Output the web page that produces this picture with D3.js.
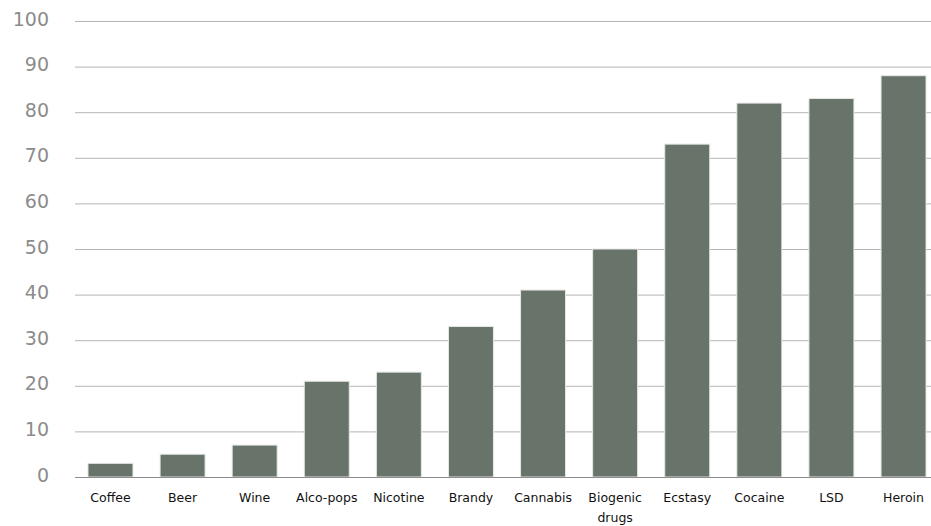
<!DOCTYPE html>
<html><head><meta charset="utf-8">
<script src="https://cdn.jsdelivr.net/npm/d3@7"></script>
<style>body{margin:0;background:#fff}</style>
</head><body>
<svg id="c" width="931" height="526"></svg>
<script>
const categories = ["Coffee","Beer","Wine","Alco-pops","Nicotine","Brandy","Cannabis","Biogenic drugs","Ecstasy","Cocaine","LSD","Heroin"];
const values = [3,5,7,21,23,33,41,50,73,82,83,88];
const yTicks = [0,10,20,30,40,50,60,70,80,90,100];

(function(){
const svg = d3.select("#c");
const mLeft = 75, mRight = 939, gridRight = 931, mTop = 21, mBottom = 477;
const x = d3.scaleBand().domain(categories).range([mLeft, mRight]).paddingInner(0.376).paddingOuter(0.18);
const y = d3.scaleLinear().domain([0,100]).range([mBottom, mTop]);

svg.append("g").selectAll("line").data(yTicks.filter(d=>d>0)).join("line")
  .attr("x1", mLeft).attr("x2", gridRight)
  .attr("y1", d=>y(d)+0.5).attr("y2", d=>y(d)+0.5)
  .attr("stroke", "#b4b4b4").attr("stroke-width", 1);

svg.append("g").selectAll("text").data(yTicks).join("text")
  .attr("x", 49).attr("y", d=>y(d)-2).attr("dy", "0.35em")
  .attr("text-anchor", "end")
  .attr("font-family", "'DejaVu Sans', Verdana, sans-serif")
  .attr("font-size", 19).attr("fill", "#8c8c8c")
  .text(d=>d);

svg.append("g").selectAll("rect").data(values).join("rect")
  .attr("x", (d,i)=>x(categories[i]))
  .attr("width", x.bandwidth())
  .attr("y", d=>y(d))
  .attr("height", d=>y(0)-y(d))
  .attr("fill", "#68736a")
  .attr("stroke", "#e6e8e6").attr("stroke-width", 1);

svg.append("line").attr("x1", mLeft).attr("x2", gridRight)
  .attr("y1", y(0)+0.5).attr("y2", y(0)+0.5)
  .attr("stroke", "#8c8c8c").attr("stroke-width", 1);

const xl = svg.append("g").selectAll("text").data(categories).join("text")
  .attr("x", d=>x(d)+x.bandwidth()/2).attr("y", 502)
  .attr("text-anchor", "middle")
  .attr("font-family", "'DejaVu Sans', Verdana, sans-serif")
  .attr("font-size", 12.5).attr("fill", "#111");
xl.each(function(d){
  const words = d === "Biogenic drugs" ? ["Biogenic","drugs"] : [d];
  const t = d3.select(this);
  words.forEach((w,i)=>t.append("tspan").attr("x", x(d)+x.bandwidth()/2).attr("dy", i===0?0:20).text(w));
});
})();
</script>
</body></html>
